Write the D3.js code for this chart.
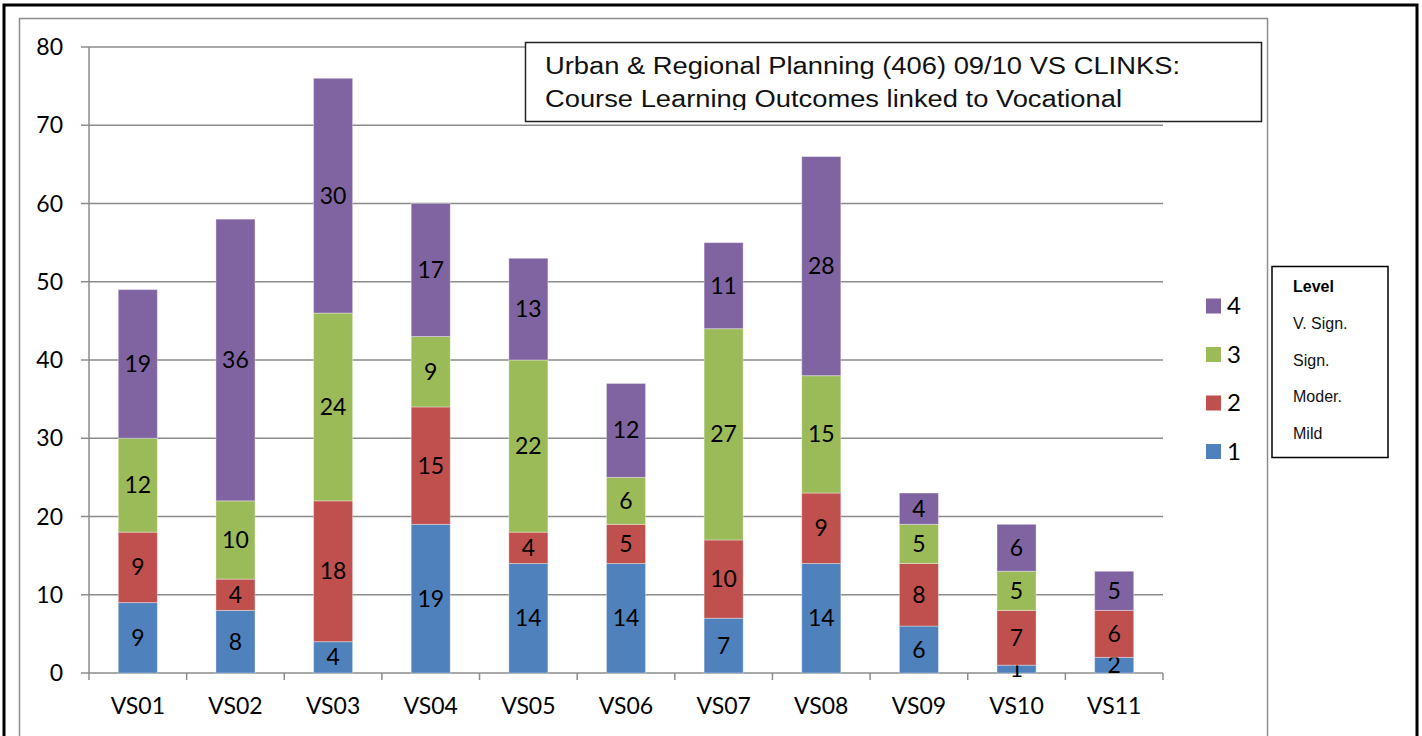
<!DOCTYPE html>
<html>
<head>
<meta charset="utf-8">
<script src="https://cdn.jsdelivr.net/npm/d3@7"></script>
<style>
  body { margin: 0; background: #fff; }
  svg { display: block; }
</style>
</head>
<body>
<div id="chart"></div>
<script>
// chart data
const categories = ["VS01", "VS02", "VS03", "VS04", "VS05", "VS06", "VS07", "VS08", "VS09", "VS10", "VS11"];
const seriesNames = ["1", "2", "3", "4"];
const level1 = [9, 8, 4, 19, 14, 14, 7, 14, 6, 1, 2];
const level2 = [9, 4, 18, 15, 4, 5, 10, 9, 8, 7, 6];
const level3 = [12, 10, 24, 9, 22, 6, 27, 15, 5, 5, 0];
const level4 = [19, 36, 30, 17, 13, 12, 11, 28, 4, 6, 5];
const yTicks = [0, 10, 20, 30, 40, 50, 60, 70, 80];
const levelNames = ["V. Sign.", "Sign.", "Moder.", "Mild"];
const titleLines = ["Urban & Regional Planning (406) 09/10 VS CLINKS:", "Course Learning Outcomes linked to Vocational"];
const titleWidths = [635, 577];

const colors = ["#4F81BD", "#C0504D", "#9BBB59", "#8064A2"];
const labelFont = "Lato, 'Open Sans', sans-serif";

const W = 1422, H = 736;
const svg = d3.select("#chart").append("svg")
  .attr("width", W)
  .attr("height", H);

// outer black frame and inner gray chart frame
svg.append("rect")
  .attr("x", 4).attr("y", 5).attr("width", 1413).attr("height", 760)
  .attr("fill", "none").attr("stroke", "#000").attr("stroke-width", 3);
svg.append("rect")
  .attr("x", 19.5).attr("y", 18.5).attr("width", 1248).attr("height", 760)
  .attr("fill", "#fff").attr("stroke", "#8c8c8c").attr("stroke-width", 1.5);

// scales
const x = d3.scaleBand().domain(categories).range([89, 1163]).paddingInner(0.6).paddingOuter(0.3);
const y = d3.scaleLinear().domain([0, 80]).range([673, 47]);

// gridlines
svg.append("g")
  .selectAll("line")
  .data(yTicks)
  .join("line")
  .attr("x1", 81).attr("x2", 1163)
  .attr("y1", d => y(d)).attr("y2", d => y(d))
  .attr("stroke", "#8c8c8c").attr("stroke-width", 1.5);

// y axis labels
svg.append("g")
  .selectAll("text")
  .data(yTicks)
  .join("text")
  .attr("x", 63)
  .attr("y", d => y(d))
  .attr("dy", "0.35em")
  .attr("text-anchor", "end")
  .attr("font-family", labelFont)
  .attr("font-size", 23)
  .attr("fill", "#000")
  .text(d => d);

// stacked bars
const rows = categories.map((c, i) => ({
  cat: c, "1": level1[i], "2": level2[i], "3": level3[i], "4": level4[i]
}));
const stacked = d3.stack().keys(seriesNames)(rows);

const layers = svg.append("g")
  .selectAll("g")
  .data(stacked)
  .join("g")
  .attr("fill", (d, i) => colors[i]);

layers.selectAll("rect")
  .data(d => d)
  .join("rect")
  .attr("x", d => x(d.data.cat))
  .attr("y", d => y(d[1]))
  .attr("width", x.bandwidth())
  .attr("height", d => y(d[0]) - y(d[1]))
  .attr("stroke", "rgba(255,255,255,0.35)")
  .attr("stroke-width", 1);

// value labels
layers.selectAll("text")
  .data(d => d.filter(p => p[1] - p[0] > 0))
  .join("text")
  .attr("x", d => x(d.data.cat) + x.bandwidth() / 2)
  .attr("y", d => (y(d[0]) + y(d[1])) / 2)
  .attr("dy", "0.35em")
  .attr("text-anchor", "middle")
  .attr("font-family", labelFont)
  .attr("font-size", 23)
  .attr("fill", "#000")
  .text(d => d[1] - d[0]);

// axes lines
svg.append("line")
  .attr("x1", 89).attr("x2", 89).attr("y1", 47).attr("y2", 673)
  .attr("stroke", "#8c8c8c").attr("stroke-width", 1.5);

const bounds = categories.map(c => x(c) - x.step() * x.paddingInner() / 2).concat([1163]);
bounds[0] = 89;
svg.append("g")
  .selectAll("line")
  .data(bounds)
  .join("line")
  .attr("x1", d => d).attr("x2", d => d)
  .attr("y1", 673).attr("y2", 680)
  .attr("stroke", "#8c8c8c").attr("stroke-width", 1.5);

// x axis labels
svg.append("g")
  .selectAll("text")
  .data(categories)
  .join("text")
  .attr("x", d => x(d) + x.bandwidth() / 2)
  .attr("y", 714)
  .attr("text-anchor", "middle")
  .attr("font-family", labelFont)
  .attr("font-size", 23)
  .attr("fill", "#000")
  .text(d => d);

// title box
svg.append("rect")
  .attr("x", 525.5).attr("y", 42.5).attr("width", 736).attr("height", 79)
  .attr("fill", "#fff").attr("stroke", "#222").attr("stroke-width", 1.5);
svg.append("defs").append("clipPath").attr("id", "titleClip")
  .append("rect").attr("x", 527).attr("y", 44).attr("width", 733).attr("height", 66);
svg.append("g")
  .attr("clip-path", "url(#titleClip)")
  .selectAll("text")
  .data(titleLines)
  .join("text")
  .attr("x", 545)
  .attr("y", (d, i) => 74 + i * 33)
  .attr("font-family", "'Liberation Sans', sans-serif")
  .attr("font-size", 23)
  .attr("textLength", (d, i) => titleWidths[i])
  .attr("lengthAdjust", "spacingAndGlyphs")
  .attr("fill", "#111")
  .text(d => d);

// series legend
const legendItems = seriesNames.slice().reverse();
const legend = svg.append("g")
  .selectAll("g")
  .data(legendItems)
  .join("g")
  .attr("transform", (d, i) => `translate(1206, ${306 + i * 48.5})`);
legend.append("rect")
  .attr("x", 0).attr("y", -7.5).attr("width", 15).attr("height", 15)
  .attr("fill", d => colors[seriesNames.indexOf(d)]);
legend.append("text")
  .attr("x", 21).attr("y", 0).attr("dy", "0.35em")
  .attr("font-family", labelFont)
  .attr("font-size", 24)
  .attr("fill", "#000")
  .text(d => d);

// level box
svg.append("rect")
  .attr("x", 1272).attr("y", 266.5).attr("width", 116).attr("height", 191)
  .attr("fill", "#fff").attr("stroke", "#000").attr("stroke-width", 1.5);
svg.append("text")
  .attr("x", 1293).attr("y", 292)
  .attr("font-family", "'Liberation Sans', Arial, sans-serif")
  .attr("font-size", 16).attr("font-weight", "bold")
  .text("Level");
svg.append("g")
  .selectAll("text")
  .data(levelNames)
  .join("text")
  .attr("x", 1293)
  .attr("y", (d, i) => 329 + i * 36.7)
  .attr("font-family", "'Liberation Sans', Arial, sans-serif")
  .attr("font-size", 16)
  .attr("fill", "#111")
  .text(d => d);
</script>
</body>
</html>
